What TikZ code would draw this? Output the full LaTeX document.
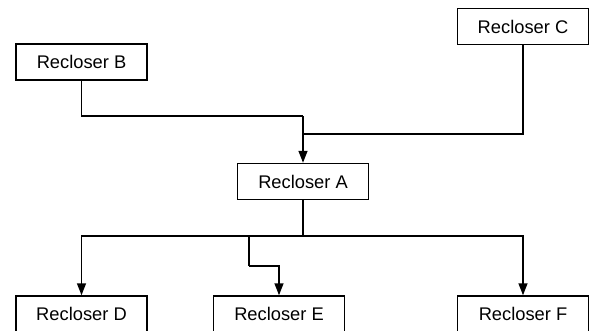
\documentclass[tikz,border=0pt]{standalone}
\usepackage{fontspec}
\setmainfont{Liberation Sans}
\usetikzlibrary{arrows.meta}
\begin{document}
\begin{tikzpicture}[x=1pt,y=-1pt,
  box/.style={draw=black, line width=1.5pt, fill=white, minimum width=131pt, minimum height=36pt, inner sep=0pt, font=\fontsize{18.3}{21}\selectfont},
  wire/.style={draw=black, line width=1.5pt},
  arr/.style={wire, -{Triangle[width=9pt,length=12pt]}}]
\useasboundingbox (0,0) rectangle (590,330);
\begin{scope}
\clip (0,0) rectangle (590,330);
\node[box] (B) at (81.5,62) {Recloser B};
\node[box] (C) at (523,26.5) {Recloser C};
\node[box] (A) at (303,181.5) {Recloser A};
\node[box] (D) at (81.5,314) {Recloser D};
\node[box] (E) at (279,314) {Recloser E};
\node[box] (F) at (523,314) {Recloser F};
\coordinate (j1) at (303,116);
\coordinate (j2) at (303,236);
\coordinate (eb) at (249,236);
\coordinate (ek) at (249,266);
\draw[wire] (B.south) |- (j1);
\draw[wire] (C.south) |- (303,134);
\draw[arr] (j1) -- (A.north);
\draw[wire] (A.south) -- (j2);
\draw[arr] (j2) -| (D.north);
\draw[arr] (j2) -| (F.north);
\draw[wire] (eb) -- (ek);
\draw[arr] (ek) -| (E.north);
\end{scope}
\end{tikzpicture}
\end{document}
